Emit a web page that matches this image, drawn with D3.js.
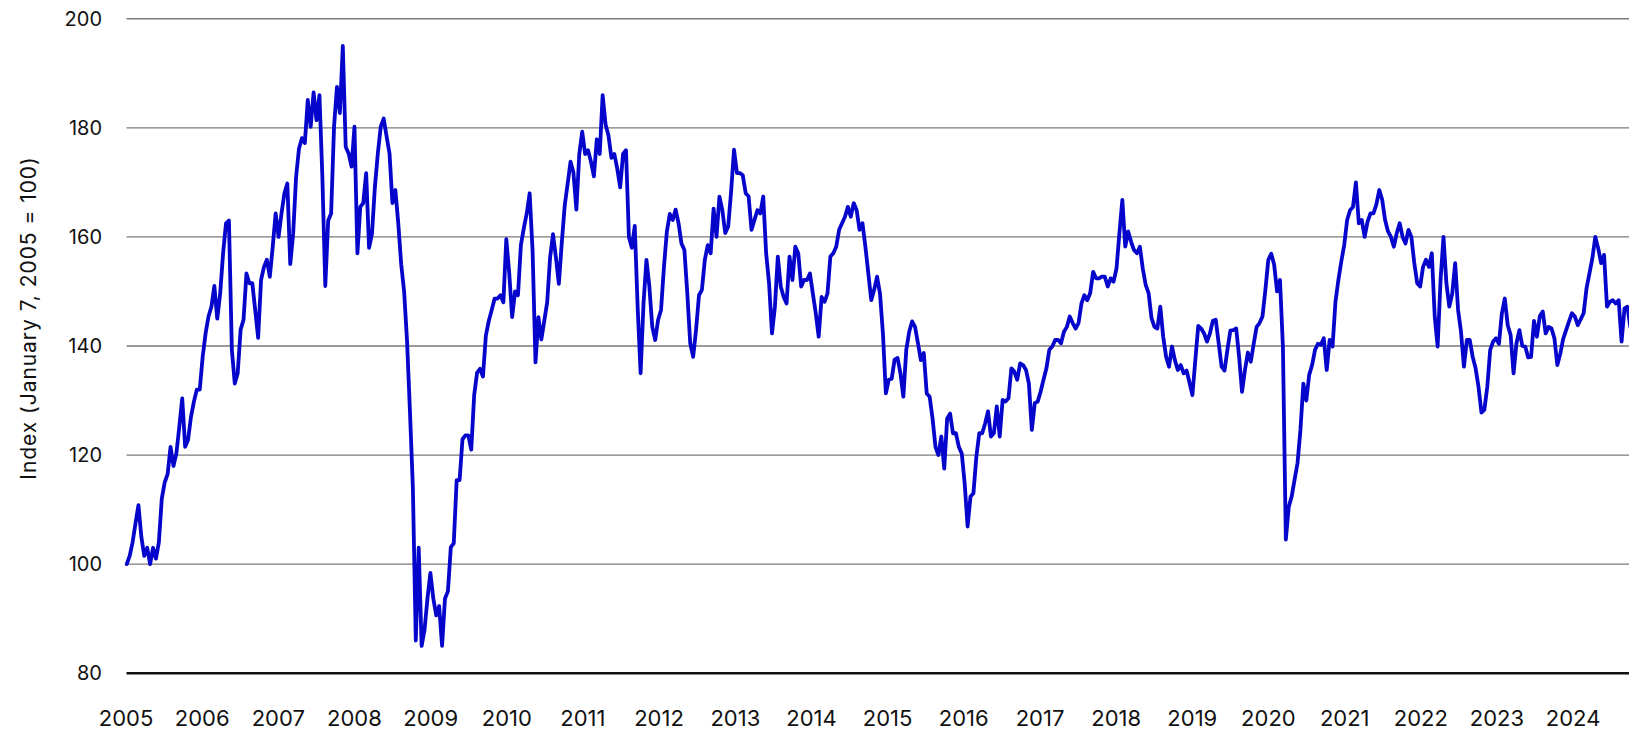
<!DOCTYPE html>
<html>
<head>
<meta charset="utf-8">
<script src="https://cdn.jsdelivr.net/npm/d3@7"></script>
<style>
  html, body { margin: 0; padding: 0; background: #ffffff; }
  svg { display: block; }
  text { font-family: Inter, "Noto Sans", sans-serif; fill: #111; }
</style>
</head>
<body>
<svg id="chart" width="1629" height="734"></svg>
<script>
// ---- Data (bi-weekly observations starting January 7, 2005) ----
const startDate = "2005-01-07";
const stepDays = 14;
const values = [
  100, 101.5, 104, 107.5, 110.8, 105, 101.5, 103, 100, 103,
  101, 104, 112, 115, 116.5, 121.5, 118, 120.3, 125.2, 130.4,
  121.5, 122.8, 127, 129.8, 132, 132, 138, 142.3, 145.4, 147.2,
  151, 145, 149.6, 157, 162.5, 163, 139.3, 133.1, 135, 143,
  144.8, 153.3, 151.5, 151.5, 146.6, 141.5, 152.1, 154.5, 155.8, 152.7,
  158.2, 164.3, 160, 164.3, 168, 169.8, 155, 160.6, 171, 176.2,
  178.1, 177.2, 185.1, 180.2, 186.5, 181.4, 186, 171, 151, 163,
  164.3, 180.2, 187.5, 182.7, 195, 176.5, 175.3, 172.9, 180.2, 157,
  165.5, 166.2, 171.7, 158, 160.6, 169.2, 175.3, 180.2, 181.7, 178.4,
  175.3, 166.2, 168.6, 162.5, 155, 150, 141, 128, 114, 86,
  103, 85, 88, 93.7, 98.4, 93.7, 90.6, 92.3, 85, 93.7,
  95, 103.1, 103.8, 115.4, 115.4, 122.9, 123.6, 123.6, 121, 131,
  135.1, 135.8, 134.4, 141.9, 144.6, 146.6, 148.7, 148.7, 149.3, 148,
  159.6, 153.4, 145.3, 150, 149.3, 158.5, 161.6, 164.3, 168, 157.5,
  137, 145.3, 141.2, 144.6, 148, 156.2, 160.5, 156.2, 151.4, 158.9,
  165.7, 169.7, 173.8, 171.8, 165, 175.2, 179.3, 175.2, 175.9, 173.8,
  171.1, 177.9, 175.2, 186, 180.6, 178.6, 174.5, 175.2, 172.5, 169.1,
  175.2, 175.9, 160, 158, 162, 147, 135, 147.8, 155.8, 150.9,
  143.5, 141.1, 144.8, 146.6, 154.5, 161, 164.2, 163.1, 165, 162.5,
  158.8, 157.6, 149.6, 140.5, 138, 143, 149.3, 150.3, 155.8, 158.5,
  157, 165.2, 160, 167.4, 164.9, 160.7, 161.9, 168.3, 176, 171.7,
  171.7, 171.3, 168, 167.4, 161.3, 163.1, 164.9, 164.3, 167.4, 157,
  151.5, 142.3, 147.2, 156.4, 150.9, 149, 147.8, 156.4, 152.1, 158.2,
  157, 150.9, 152.1, 152.1, 153.3, 149.6, 146, 141.7, 149, 148.1,
  149.6, 156.4, 157, 158.2, 161.3, 162.5, 163.7, 165.5, 163.7, 166.2,
  164.9, 161.3, 162.5, 158.2, 153.3, 148.4, 150.3, 152.7, 149.6, 142.3,
  131.3, 133.8, 134, 137.5, 137.8, 135, 130.7, 139.3, 142.6, 144.5,
  143.5, 140.5, 137.4, 138.7, 131.3, 130.7, 126.7, 121.5, 120, 123.4,
  117.5, 126.7, 127.6, 124, 124, 121.5, 120.3, 114.8, 106.9, 112.4,
  113, 119.7, 124, 124, 125.8, 128, 123.4, 124, 128.9, 123.4,
  130.1, 129.8, 130.4, 135.9, 135.3, 133.8, 136.8, 136.5, 135.6, 133.1,
  124.6, 129.5, 129.8, 131.6, 133.8, 135.9, 139.3, 139.9, 141.1, 141.1,
  140.5, 142.6, 143.5, 145.4, 144.2, 143.2, 144.2, 147.8, 149.3, 148.4,
  149.7, 153.6, 152.4, 152.4, 152.7, 152.7, 150.9, 152.4, 151.8, 154.2,
  160.7, 166.8, 158.2, 161, 159.1, 157.6, 157, 158.2, 154.2, 151.2,
  149.7, 145.1, 143.5, 143.2, 147.2, 141.7, 138, 136.2, 139.9, 137.4,
  135.6, 136.5, 135, 135.5, 133.3, 131, 137.4, 143.7, 143.2, 142.3,
  140.8, 142.3, 144.6, 144.8, 140.5, 136.2, 135.5, 139.3, 142.8, 142.9,
  143.2, 138, 131.6, 135.6, 138.8, 137.1, 140.4, 143.5, 144.2, 145.4,
  150.3, 155.8, 156.9, 154.9, 150, 152.1, 139.9, 104.5, 110.5, 112.4,
  115.5, 118.5, 124.6, 133.1, 130, 134.7, 136.5, 139.3, 140.4, 140.2,
  141.4, 135.6, 141.1, 139.9, 148.1, 152.1, 155.5, 158.5, 163.1, 164.9,
  165.5, 170, 162.5, 163.1, 160, 162.8, 164.3, 164.3, 165.9, 168.6,
  166.8, 163.1, 161, 160, 158.2, 160.7, 162.5, 160, 158.8, 161.3,
  160, 155.2, 151.5, 150.9, 154.5, 155.8, 154.5, 157, 145.4, 139.9,
  152.1, 160, 151.5, 147.2, 149.6, 155.2, 146.6, 142.6, 136.2, 141.1,
  141.1, 138, 135.9, 132.5, 127.8, 128.3, 132.5, 139.3, 140.8, 141.4,
  140.4, 146, 148.7, 143.8, 142, 135, 140.5, 142.9, 140, 139.9,
  137.9, 138, 144.6, 141.7, 145.5, 146.3, 142.3, 143.5, 143.2, 141.4,
  136.5, 138.6, 141.3, 142.9, 144.5, 146, 145.4, 143.8, 144.9, 146,
  150.6, 153.3, 156.1, 160, 157.9, 155.2, 156.7, 147.2, 148.1, 148.4,
  147.8, 148.4, 140.8, 146.9, 147.2, 143.5
];
const yTickValues = [80, 100, 120, 140, 160, 180, 200];
const xTickLabels = ["2005","2006","2007","2008","2009","2010","2011","2012","2013","2014",
                     "2015","2016","2017","2018","2019","2020","2021","2022","2023","2024"];
const yTitle = "Index (January 7, 2005 = 100)";

// ---- Build records ----
const parse = d3.utcParse("%Y-%m-%d");
const t0 = parse(startDate);
const series = values.map((v, i) => ({ date: d3.utcDay.offset(t0, i * stepDays), value: v }));

// ---- Layout ----
const W = 1629, H = 734;
const plotLeft = 126.5, plotRight = 1629;
const yTop = 18.75, yBottom = 673.2;

const svg = d3.select("#chart");

const x = d3.scaleUtc()
  .domain([d3.utcParse("%Y")("2005"), d3.utcParse("%Y")("2025")])
  .range([125.5, 125.5 + 20 * 76.17]);

const y = d3.scaleLinear()
  .domain([80, 200])
  .range([yBottom, yTop]);

// gridlines
const grid = svg.append("g");
grid.selectAll("line")
  .data(yTickValues.filter(v => v !== 80))
  .join("line")
  .attr("x1", plotLeft).attr("x2", plotRight)
  .attr("y1", d => y(d)).attr("y2", d => y(d))
  .attr("stroke", "#7a7a7a")
  .attr("stroke-width", 1.3);

// y axis labels
const yAxis = d3.axisLeft(y).tickValues(yTickValues).tickSize(0).tickPadding(0);
const yg = svg.append("g").attr("transform", "translate(102,0)").call(yAxis);
yg.select(".domain").remove();
yg.selectAll("text")
  .attr("font-family", "Inter, 'Noto Sans', sans-serif")
  .attr("font-size", 20)
  .attr("fill", "#111")
  .attr("x", 0);

// x axis labels
const yearDates = xTickLabels.map(s => d3.utcParse("%Y")(s));
const xAxis = d3.axisBottom(x).tickValues(yearDates).tickFormat(d3.utcFormat("%Y")).tickSize(0).tickPadding(0);
const xg = svg.append("g").attr("transform", "translate(0,710)").call(xAxis);
xg.select(".domain").remove();
xg.selectAll("text")
  .attr("font-family", "Inter, 'Noto Sans', sans-serif")
  .attr("font-size", 22)
  .attr("fill", "#111")
  .attr("dy", "0.74em");

// data line
const line = d3.line()
  .x(d => x(d.date))
  .y(d => y(d.value));

svg.append("path")
  .datum(series)
  .attr("d", line)
  .attr("fill", "none")
  .attr("stroke", "#0505cc")
  .attr("stroke-width", 3.8)
  .attr("stroke-linejoin", "round")
  .attr("stroke-linecap", "round");

// baseline at 80
svg.append("line")
  .attr("x1", plotLeft).attr("x2", plotRight)
  .attr("y1", y(80)).attr("y2", y(80))
  .attr("stroke", "#111")
  .attr("stroke-width", 2.6);

// y title
svg.append("text")
  .attr("transform", `translate(36,318) rotate(-90)`)
  .attr("text-anchor", "middle")
  .attr("font-family", "Inter, 'Noto Sans', sans-serif")
  .attr("font-size", 21)
  .attr("letter-spacing", 0.95)
  .attr("fill", "#111")
  .text(yTitle);
</script>
</body>
</html>
